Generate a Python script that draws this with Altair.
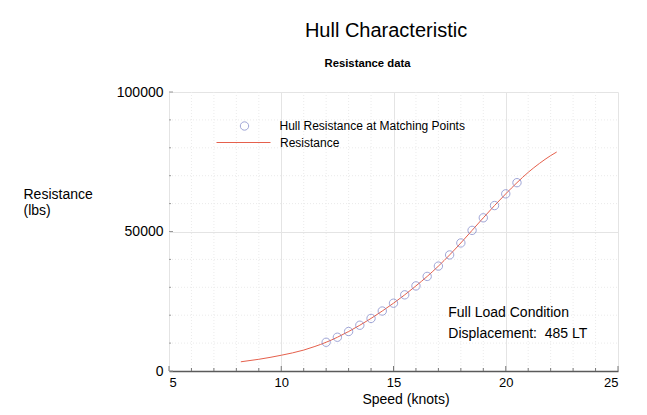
import altair as alt
import pandas as pd

# ---- data ----
point_speed = [12.0, 12.5, 13.0, 13.5, 14.0, 14.5, 15.0, 15.5, 16.0, 16.5,
               17.0, 17.5, 18.0, 18.5, 19.0, 19.5, 20.0, 20.5]
point_resist = [10300, 12100, 14150, 16400, 18850, 21500, 24300, 27300, 30500, 33900,
                37600, 41600, 45900, 50400, 54900, 59300, 63500, 67500]

line_speed = [8.2, 9.0, 10.0, 11.0, 11.5, 12.0, 12.5, 13.0, 13.5, 14.0, 14.5, 15.0,
              15.5, 16.0, 16.5, 17.0, 17.5, 18.0, 18.5, 19.0, 19.5, 20.0, 20.5,
              21.0, 21.5, 22.0, 22.27]
line_resist = [3300, 4200, 5650, 7500, 8800, 10300, 12100, 14150, 16400, 18850, 21500, 24300,
               27300, 30500, 33900, 37600, 41600, 45900, 50400, 54900, 59300, 63500, 67500,
               71200, 74400, 77200, 78500]

x_labels = [5, 10, 15, 20, 25]
x_minor = [6, 7, 8, 9, 11, 12, 13, 14, 16, 17, 18, 19, 21, 22, 23, 24]
y_labels = [0, 50000, 100000]
y_minor = [10000, 20000, 30000, 40000, 60000, 70000, 80000, 90000]

note_lines = ["Full Load Condition", "Displacement:\u00a0 485 LT"]
note_speed = [17.44, 17.44]
note_resist = [19460, 11720]

title_text = "Hull Characteristic"
subtitle_text = "Resistance data"
point_name = "Hull Resistance at Matching Points"
line_name = "Resistance"

FONT = "Liberation Sans, Arial, Helvetica, sans-serif"
W, H = 449, 279

pts = pd.DataFrame({"speed": point_speed, "resist": point_resist, "series": point_name})
crv = pd.DataFrame({"speed": line_speed, "resist": line_resist, "series": line_name})
notes = pd.DataFrame({"speed": note_speed, "resist": note_resist, "text": note_lines})

xs = alt.Scale(domain=[5, 25], nice=False, zero=False)
ys = alt.Scale(domain=[0, 100000], nice=False)

base_x_axis = alt.Axis(values=x_labels, grid=True, gridColor="#e4e4e4", gridWidth=1,
                       ticks=False, tickSize=0, domain=True, domainColor="#5a5a5a",
                       domainWidth=1.5, labelFont=FONT, labelFontSize=13,
                       labelColor="#000000", labelPadding=5, format="d",
                       title="Speed (knots)", titleFont=FONT, titleFontSize=14,
                       titleFontWeight="normal", titleColor="#000000",
                       titleX=236.5, titleY=32, titleAlign="center",
                       titleBaseline="alphabetic")
base_y_axis = alt.Axis(values=y_labels, grid=True, gridColor="#e4e4e4", gridWidth=1,
                       ticks=False, tickSize=0, domain=False, labelFont=FONT,
                       labelFontSize=14, labelColor="#000000", labelPadding=6,
                       format="d",
                       title=["Resistance", "(lbs)"], titleFont=FONT, titleFontSize=14,
                       titleFontWeight="normal", titleColor="#000000", titleAngle=0,
                       titleAlign="left", titleBaseline="alphabetic", titleX=-146,
                       titleY=106, titleLineHeight=16)

# minor dotted grid
minor_v = alt.Chart(pd.DataFrame({"v": x_minor})).mark_rule(
    color="#ebebeb", strokeDash=[1, 2], strokeWidth=1
).encode(x=alt.X("v:Q", scale=xs, axis=base_x_axis), y=alt.value(0), y2=alt.value(H))

minor_h = alt.Chart(pd.DataFrame({"v": y_minor})).mark_rule(
    color="#ebebeb", strokeDash=[1, 2], strokeWidth=1
).encode(y=alt.Y("v:Q", scale=ys, axis=base_y_axis), x=alt.value(0), x2=alt.value(W))

# inner ticks
xt_minor = alt.Chart(pd.DataFrame({"v": x_minor})).mark_rule(color="#777777").encode(
    x=alt.X("v:Q", scale=xs), y=alt.value(H), y2=alt.value(H - 3))
xt_major = alt.Chart(pd.DataFrame({"v": x_labels})).mark_rule(color="#777777").encode(
    x=alt.X("v:Q", scale=xs), y=alt.value(H), y2=alt.value(H - 5))
yt_minor = alt.Chart(pd.DataFrame({"v": y_minor})).mark_rule(color="#999999").encode(
    y=alt.Y("v:Q", scale=ys), x=alt.value(0), x2=alt.value(2))
yt_major = alt.Chart(pd.DataFrame({"v": y_labels})).mark_rule(color="#999999").encode(
    y=alt.Y("v:Q", scale=ys), x=alt.value(0), x2=alt.value(4))

curve = alt.Chart(crv).mark_line(strokeWidth=1, interpolate="monotone").encode(
    x=alt.X("speed:Q", scale=xs),
    y=alt.Y("resist:Q", scale=ys),
    color=alt.Color("series:N",
                    scale=alt.Scale(domain=[line_name], range=["#e5604c"]),
                    legend=alt.Legend(orient="none", legendX=47, legendY=23, title=None,
                                      symbolType="stroke", symbolSize=2916,
                                      symbolStrokeWidth=1, labelOffset=9,
                                      labelFont=FONT, labelFontSize=12, labelLimit=0,
                                      labelColor="#000000", padding=0)),
)

points = alt.Chart(pts).mark_point(shape="circle", filled=False, size=70, strokeWidth=1).encode(
    x=alt.X("speed:Q", scale=xs),
    y=alt.Y("resist:Q", scale=ys),
    color=alt.Color("series:N",
                    scale=alt.Scale(domain=[point_name], range=["#7880c6"]),
                    legend=alt.Legend(orient="none", legendX=69.5, legendY=28, title=None,
                                      symbolType="circle", symbolSize=70,
                                      symbolStrokeWidth=1, symbolFillColor="transparent",
                                      labelOffset=29, labelFont=FONT, labelFontSize=12,
                                      labelLimit=0, labelColor="#000000", padding=0)),
)

note = alt.Chart(notes).mark_text(align="left", baseline="alphabetic", font=FONT,
                                  fontSize=14, color="#000000").encode(
    x=alt.X("speed:Q", scale=xs), y=alt.Y("resist:Q", scale=ys), text="text:N")

title = alt.Chart(pd.DataFrame({"t": [title_text]})).mark_text(
    align="center", baseline="alphabetic", font=FONT, fontSize=20, color="#000000"
).encode(text="t:N", x=alt.value(217), y=alt.value(-54.7))

subtitle = alt.Chart(pd.DataFrame({"t": [subtitle_text]})).mark_text(
    align="center", baseline="alphabetic", font=FONT, fontSize=11.3, fontWeight="bold",
    color="#000000"
).encode(text="t:N", x=alt.value(198.5), y=alt.value(-24.7))

chart = alt.layer(
    minor_v, minor_h, xt_minor, xt_major, yt_minor, yt_major, curve, points, note,
    title, subtitle
).resolve_scale(color="independent").properties(
    width=W, height=H, autosize="none",
    padding={"left": 161, "top": 84, "right": 12, "bottom": 36},
    background="#ffffff",
).configure_view(strokeWidth=0)

chart.save("out.html", embed_options={"renderer": "svg", "actions": False})
